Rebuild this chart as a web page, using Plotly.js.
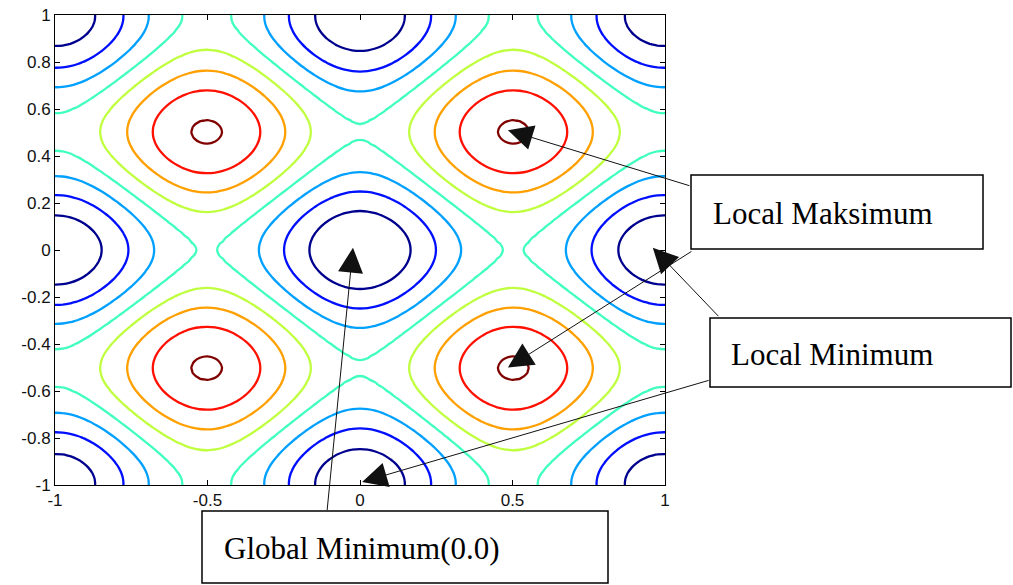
<!DOCTYPE html>
<html>
<head>
<meta charset="utf-8">
<script src="https://cdn.plot.ly/plotly-3.0.1.min.js"></script>
<style>html,body{margin:0;padding:0;background:#fff;}#chart{width:1013px;height:585px;}</style>
</head>
<body>
<div id="chart"></div>
<script>
// grid coordinates (same on both axes)
var gridX = [-1,-0.975,-0.95,-0.925,-0.9,-0.875,-0.85,-0.825,-0.8,-0.775,-0.75,-0.725,-0.7,-0.675,-0.65,-0.625,-0.6,-0.575,-0.55,-0.525,-0.5,-0.475,-0.45,-0.425,-0.4,-0.375,-0.35,-0.325,-0.3,-0.275,-0.25,-0.225,-0.2,-0.175,-0.15,-0.125,-0.1,-0.075,-0.05,-0.025,0,0.025,0.05,0.075,0.1,0.125,0.15,0.175,0.2,0.225,0.25,0.275,0.3,0.325,0.35,0.375,0.4,0.425,0.45,0.475,0.5,0.525,0.55,0.575,0.6,0.625,0.65,0.675,0.7,0.725,0.75,0.775,0.8,0.825,0.85,0.875,0.9,0.925,0.95,0.975,1];
// one-dimensional profile values at the grid coordinates (surface = profile(x) + profile(y))
var profile = [1,1.0737,1.3919,1.9456,2.7198,3.6946,4.8447,6.1407,7.5498,9.0363,10.5625,12.09,13.5802,14.9955,16.3004,17.4617,18.4502,19.2407,19.8131,20.1525,20.25,20.1025,19.7131,19.0907,18.2502,17.2117,16.0004,14.6455,13.1802,11.64,10.0625,8.4863,6.9498,5.4907,4.1447,2.9446,1.9198,1.0956,0.4919,0.1237,0,0.1237,0.4919,1.0956,1.9198,2.9446,4.1447,5.4907,6.9498,8.4863,10.0625,11.64,13.1802,14.6455,16.0004,17.2117,18.2502,19.0907,19.7131,20.1025,20.25,20.1525,19.8131,19.2407,18.4502,17.4617,16.3004,14.9955,13.5802,12.09,10.5625,9.0363,7.5498,6.1407,4.8447,3.6946,2.7198,1.9456,1.3919,1.0737,1];
var levels = [5,10,15,20,25,30,35,40];
var levelColors = ['#00008f','#0010ff','#00a0ff','#40ffc0','#c0ff40','#ffa000','#ff1000','#800000'];
var xTickVals = [-1,-0.5,0,0.5,1];
var xTickText = ['-1','-0.5','0','0.5','1'];
var yTickVals = [-1,-0.8,-0.6,-0.4,-0.2,0,0.2,0.4,0.6,0.8,1];
var yTickText = ['-1','-0.8','-0.6','-0.4','-0.2','0','0.2','0.4','0.6','0.8','1'];

var z = profile.map(function(py){ return profile.map(function(px){ return px + py; }); });
var cs = levelColors.map(function(c,i){ return [i/(levelColors.length-1), c]; });

var trace = {
  type: 'contour', x: gridX, y: gridX, z: z,
  autocontour: false,
  contours: {start: levels[0], end: levels[levels.length-1], size: levels[1]-levels[0], coloring: 'lines', showlabels: false},
  zauto: false, zmin: levels[0], zmax: levels[levels.length-1],
  colorscale: cs, showscale: false,
  line: {width: 2.3, smoothing: 1.3},
  hoverinfo: 'skip'
};

// pixel helpers for paper coords
var L=55, R=665, T=15, B=485;
function px(p){ return (p-L)/(R-L); }
function py(p){ return (B-p)/(B-T); }

var boxes = [[691,175,983,249],[710,318,1011,387],[202,511,608,583]];
var shapes = boxes.map(function(b){
  return {type:'rect', xref:'paper', yref:'paper', x0:px(b[0]), x1:px(b[2]), y0:py(b[3]), y1:py(b[1]),
          line:{color:'#000', width:1.5}, fillcolor:'rgba(255,255,255,0)', layer:'above'};
});

var labels = [['Local Maksimum',711,213],['Local Minimum',729,355],['Global Minimum(0.0)',222,548]];
var annotations = labels.map(function(l){
  return {text:l[0], xref:'paper', yref:'paper', x:px(l[1]), y:py(l[2]), xanchor:'left', yanchor:'middle',
          showarrow:false, font:{family:'"Liberation Serif", "Times New Roman", serif', size:31, color:'#000'}};
});
var arrows = [[0.485,0.51,183,56],[0.485,-0.50,185,-117],[0.96,0.01,67,70],[0.007,-0.987,348,-102],[-0.023,0.01,-26,264]];
arrows.forEach(function(a){
  annotations.push({text:'', x:a[0], y:a[1], xref:'x', yref:'y', ax:a[2], ay:a[3], showarrow:true,
    arrowhead:2, arrowsize:5, arrowwidth:1, arrowcolor:'#111', standoff:0, startstandoff:0});
});

var axisCommon = {showgrid:false, zeroline:false, showline:true, linecolor:'#000', linewidth:1, mirror:'ticks',
  ticks:'inside', ticklen:5, tickwidth:1, tickcolor:'#000', tickmode:'array',
  tickfont:{family:'"Liberation Sans", Arial, sans-serif', size:17, color:'#111'}};

var layout = {
  width:1013, height:585, margin:{l:L, r:1013-R, t:T, b:585-B, pad:0},
  paper_bgcolor:'#fff', plot_bgcolor:'#fff', showlegend:false,
  xaxis: Object.assign({}, axisCommon, {range:[-1,1], tickvals:xTickVals, ticktext:xTickText}),
  yaxis: Object.assign({}, axisCommon, {range:[-1,1], tickvals:yTickVals, ticktext:yTickText}),
  shapes: shapes, annotations: annotations
};

Plotly.newPlot('chart', [trace], layout, {staticPlot:true, displayModeBar:false});
</script>
</body>
</html>
